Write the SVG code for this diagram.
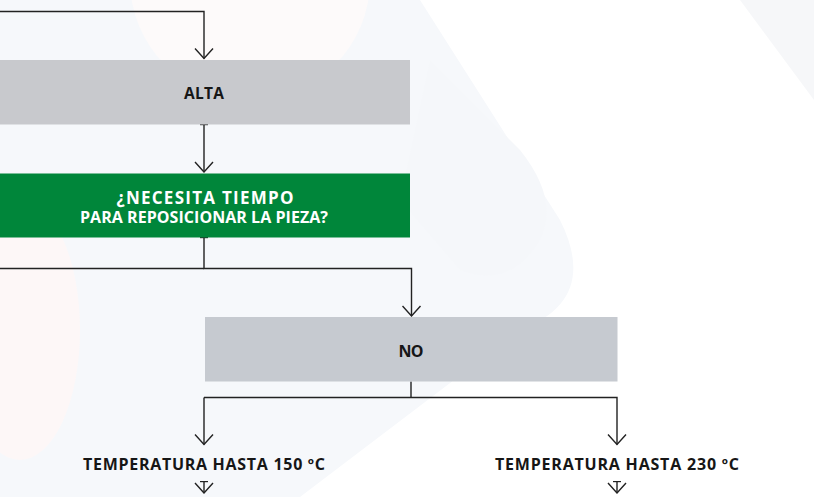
<svg xmlns="http://www.w3.org/2000/svg" width="814" height="497" viewBox="0 0 814 497">
  <style>
    .lbl { font-family: "Open Sans", "Noto Sans", "Liberation Sans", sans-serif; font-weight: 700; text-anchor: middle; }
    .dark { fill: #161616; }
    .light { fill: #ffffff; }
    .wire { fill: none; stroke: #222222; stroke-width: 1.4; }
  </style>
  <defs>
    <marker id="arrow" markerUnits="userSpaceOnUse" viewBox="-11 -10 12 20" refX="0" refY="0" markerWidth="12" markerHeight="20" orient="auto">
      <path d="M-10,-9 L0,0 L-10,9" fill="none" stroke="#222222" stroke-width="1.4"/>
    </marker>
    <marker id="tee" markerUnits="userSpaceOnUse" viewBox="-1 -5 2 10" refX="0" refY="0" markerWidth="2" markerHeight="10" orient="auto">
      <path d="M0,-4 L0,4" fill="none" stroke="#222222" stroke-width="1.4"/>
    </marker>
  </defs>

  <!-- faint background watermark -->
  <g id="background">
    <rect x="0" y="0" width="814" height="497" fill="#ffffff"/>
    <path d="M0,0 H420 L560,220 Q600,300 520,330 L300,497 H0 Z" fill="#f6f8fb"/>
    <circle cx="250" cy="-20" r="120" fill="#fdfafa"/>
    <path d="M740,0 H814 V100 Z" fill="#f6f7f9"/>
    <path d="M430,60 L520,150 Q560,200 540,240 Q510,290 460,270 L400,200 Z" fill="#f5f7fa"/>
    <ellipse cx="20" cy="330" rx="60" ry="130" fill="#fdf7f7"/>
  </g>

  <g id="connectors">
    <path class="wire" d="M0,11.5 H204 V58.5" marker-end="url(#arrow)"/>
    <path class="wire" d="M204,124.5 V172" marker-start="url(#tee)" marker-end="url(#arrow)"/>
    <path class="wire" d="M204,237.5 V268.5 H411.5 V316" marker-start="url(#tee)" marker-end="url(#arrow)"/>
    <path class="wire" d="M0,268.5 H204"/>
    <path class="wire" d="M411,381.5 V397.5"/>
    <path class="wire" d="M204,397.5 H617 V444.5" marker-end="url(#arrow)"/>
    <path class="wire" d="M204,397.5 V444.5" marker-end="url(#arrow)"/>
    <path class="wire" d="M204,481.5 V493" marker-start="url(#tee)" marker-end="url(#arrow)"/>
    <path class="wire" d="M617,481.5 V493" marker-start="url(#tee)" marker-end="url(#arrow)"/>
  </g>

  <g id="node-alta">
    <rect x="0" y="60" width="410" height="64.5" fill="#c8c9cd"/>
    <text class="lbl dark" x="204" y="99" font-size="15.5" textLength="40" lengthAdjust="spacing">ALTA</text>
  </g>

  <g id="node-question">
    <rect x="0" y="173.5" width="410" height="64" fill="#00863a"/>
    <text class="lbl light" x="205" y="204" font-size="17" textLength="177" lengthAdjust="spacing">¿NECESITA TIEMPO</text>
    <text class="lbl light" x="204" y="222.7" font-size="16" textLength="248" lengthAdjust="spacing">PARA REPOSICIONAR LA PIEZA?</text>
  </g>

  <g id="node-no">
    <rect x="205" y="317" width="412.5" height="64.5" fill="#c6cad0"/>
    <text class="lbl dark" x="411" y="356.7" font-size="16" textLength="25" lengthAdjust="spacing">NO</text>
  </g>

  <g id="node-temp150">
    <text class="lbl dark" x="204" y="470" font-size="16" textLength="242" lengthAdjust="spacing">TEMPERATURA HASTA 150 ºC</text>
  </g>

  <g id="node-temp230">
    <text class="lbl dark" x="617" y="470" font-size="16" textLength="244" lengthAdjust="spacing">TEMPERATURA HASTA 230 ºC</text>
  </g>
</svg>
